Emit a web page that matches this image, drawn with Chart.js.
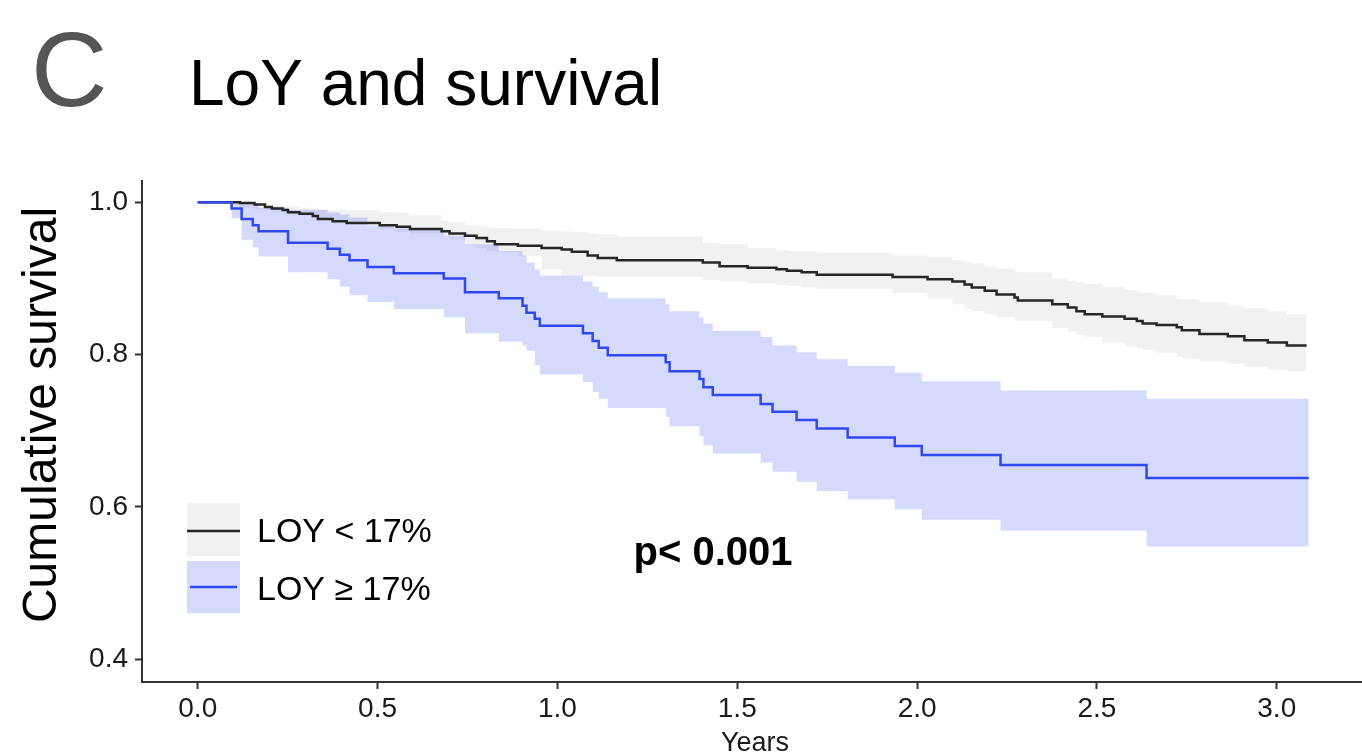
<!DOCTYPE html>
<html>
<head>
<meta charset="utf-8">
<title>LoY and survival</title>
<script src="https://cdn.jsdelivr.net/npm/chart.js@4/dist/chart.umd.min.js"></script>
<style>
  html, body { margin: 0; padding: 0; background: #fff; }
  canvas { display: block; }
</style>
</head>
<body>
<canvas id="chart" width="1362" height="754"></canvas>
<script>
/* ---------- Data ---------- */
const xTicks = [0, 0.5, 1, 1.5, 2, 2.5, 3];
const yTicks = [0.4, 0.6, 0.8, 1.0];

// LOY < 17%
const lowTime = [0, 0.117, 0.158, 0.187, 0.206, 0.236, 0.251, 0.283, 0.320, 0.334,
  0.375, 0.414, 0.506, 0.553, 0.590, 0.678, 0.700, 0.743, 0.775, 0.804,
  0.826, 0.890, 0.956, 1.012, 1.040, 1.084, 1.112, 1.165, 1.404, 1.451,
  1.529, 1.609, 1.638, 1.679, 1.721, 1.932, 2.029, 2.098, 2.132, 2.152,
  2.188, 2.221, 2.271, 2.280, 2.376, 2.419, 2.443, 2.466, 2.515, 2.577,
  2.611, 2.627, 2.666, 2.722, 2.736, 2.785, 2.864, 2.910, 2.975, 3.028, 3.083];
const lowSurv = [1, 0.999, 0.997, 0.994, 0.992, 0.990, 0.987, 0.985, 0.982, 0.978,
  0.975, 0.973, 0.970, 0.968, 0.965, 0.962, 0.959, 0.956, 0.953, 0.949,
  0.945, 0.943, 0.940, 0.938, 0.935, 0.930, 0.927, 0.924, 0.921, 0.916,
  0.914, 0.912, 0.910, 0.908, 0.905, 0.902, 0.899, 0.896, 0.892, 0.888,
  0.884, 0.879, 0.875, 0.871, 0.866, 0.862, 0.857, 0.853, 0.850, 0.847,
  0.844, 0.841, 0.839, 0.836, 0.832, 0.827, 0.824, 0.819, 0.816, 0.812, 0.812];
const lowUpper = [1, 0.999, 0.997, 0.996, 0.996, 0.995, 0.995, 0.993, 0.992, 0.991,
  0.990, 0.990, 0.987, 0.986, 0.983, 0.976, 0.974, 0.970, 0.969, 0.967,
  0.966, 0.965, 0.963, 0.962, 0.961, 0.959, 0.958, 0.955, 0.947, 0.945,
  0.940, 0.937, 0.936, 0.936, 0.934, 0.930, 0.928, 0.924, 0.921, 0.920,
  0.916, 0.913, 0.909, 0.908, 0.900, 0.897, 0.895, 0.893, 0.889, 0.885,
  0.882, 0.881, 0.878, 0.873, 0.873, 0.869, 0.864, 0.861, 0.857, 0.853, 0.853];
const lowLower = [1, 0.993, 0.991, 0.990, 0.988, 0.986, 0.984, 0.983, 0.979, 0.978,
  0.975, 0.972, 0.965, 0.961, 0.959, 0.955, 0.951, 0.944, 0.940, 0.936,
  0.935, 0.929, 0.912, 0.904, 0.904, 0.903, 0.902, 0.902, 0.898, 0.896,
  0.894, 0.891, 0.890, 0.888, 0.886, 0.881, 0.874, 0.866, 0.860, 0.857,
  0.853, 0.849, 0.845, 0.844, 0.835, 0.830, 0.826, 0.823, 0.816, 0.811,
  0.808, 0.806, 0.802, 0.797, 0.795, 0.791, 0.788, 0.784, 0.780, 0.778, 0.778];

// LOY >= 17%
const highTime = [0, 0.094, 0.122, 0.153, 0.169, 0.251, 0.361, 0.395, 0.422, 0.472,
  0.545, 0.684, 0.743, 0.837, 0.903, 0.914, 0.937, 0.951, 1.071, 1.098,
  1.115, 1.140, 1.301, 1.312, 1.395, 1.406, 1.432, 1.565, 1.598, 1.665,
  1.721, 1.807, 1.938, 2.013, 2.232, 2.638, 3.089];
const highSurv = [1, 0.992, 0.978, 0.970, 0.962, 0.947, 0.939, 0.931, 0.924, 0.915,
  0.907, 0.900, 0.882, 0.874, 0.864, 0.855, 0.847, 0.838, 0.828, 0.818,
  0.809, 0.799, 0.790, 0.778, 0.768, 0.757, 0.747, 0.735, 0.725, 0.714,
  0.703, 0.691, 0.680, 0.668, 0.655, 0.638, 0.638];
const highUpper = [1, 1, 0.999, 0.996, 0.993, 0.990, 0.987, 0.984, 0.980, 0.970,
  0.966, 0.956, 0.945, 0.936, 0.930, 0.921, 0.912, 0.904, 0.896, 0.889,
  0.882, 0.874, 0.866, 0.857, 0.849, 0.841, 0.831, 0.823, 0.812, 0.803,
  0.794, 0.785, 0.776, 0.765, 0.753, 0.742, 0.742];
const highLower = [1, 0.979, 0.951, 0.941, 0.929, 0.908, 0.899, 0.889, 0.878, 0.869,
  0.860, 0.849, 0.828, 0.817, 0.812, 0.805, 0.786, 0.774, 0.764, 0.751,
  0.742, 0.730, 0.718, 0.706, 0.693, 0.681, 0.670, 0.658, 0.646, 0.633,
  0.621, 0.610, 0.597, 0.583, 0.569, 0.548, 0.548];

/* ---------- Style ---------- */
const FONT = '"Liberation Sans", Arial, Helvetica, sans-serif';
const INK = "#1a1a1a";
const BLACK_LINE = "#262626";
const BLUE_LINE = "#2f48f2";
const GREY_BAND = "rgba(0,0,0,0.055)";
const BLUE_BAND = "rgba(45,70,240,0.2)";

const pts = (t, v) => t.map((x, i) => ({ x, y: v[i] }));

function band(t, v, bg, fill, order) {
  return {
    data: pts(t, v),
    stepped: "before",
    borderWidth: 0,
    borderColor: "rgba(0,0,0,0)",
    backgroundColor: bg,
    fill,
    pointRadius: 0,
    order
  };
}

/* ---------- Extra text and legend ---------- */
const decor = {
  id: "decor",
  afterDraw(c) {
    const ctx = c.ctx;
    ctx.save();
    ctx.textBaseline = "alphabetic";

    ctx.fillStyle = "#555";
    ctx.font = `106px ${FONT}`;
    ctx.fillText("C", 31, 106);

    ctx.fillStyle = "#000";
    ctx.font = `64px ${FONT}`;
    ctx.fillText("LoY and survival", 189, 105);

    // y axis title
    ctx.save();
    ctx.translate(56, 415);
    ctx.rotate(-Math.PI / 2);
    ctx.textAlign = "center";
    ctx.font = `48px ${FONT}`;
    ctx.fillText("Cumulative survival", 0, 0);
    ctx.restore();

    // x axis title
    ctx.textAlign = "center";
    ctx.font = `27px ${FONT}`;
    ctx.fillStyle = INK;
    ctx.fillText("Years", 755, 751);

    // p value
    ctx.fillStyle = "#000";
    ctx.font = `bold 40px ${FONT}`;
    ctx.fillText("p< 0.001", 713, 565);

    // legend
    ctx.textAlign = "left";
    ctx.fillStyle = GREY_BAND;
    ctx.fillRect(187, 503, 53, 53);
    ctx.fillStyle = BLUE_BAND;
    ctx.fillRect(187, 561, 53, 52);
    ctx.lineWidth = 2.5;
    ctx.strokeStyle = BLACK_LINE;
    ctx.beginPath(); ctx.moveTo(187, 531); ctx.lineTo(240, 531); ctx.stroke();
    ctx.strokeStyle = BLUE_LINE;
    ctx.beginPath(); ctx.moveTo(190, 587); ctx.lineTo(237, 587); ctx.stroke();

    ctx.fillStyle = "#000";
    ctx.font = `34px ${FONT}`;
    ctx.fillText("LOY < 17%", 257, 542);
    ctx.fillText("LOY \u2265 17%", 257, 600);

    ctx.restore();
  }
};

/* ---------- Chart ---------- */
const tickFont = { family: FONT, size: 28 };

new Chart(document.getElementById("chart"), {
  type: "line",
  data: {
    datasets: [
      band(lowTime, lowUpper, GREY_BAND, false, 3),
      band(lowTime, lowLower, GREY_BAND, "-1", 3),
      band(highTime, highUpper, BLUE_BAND, false, 2),
      band(highTime, highLower, BLUE_BAND, "-1", 2),
      {
        label: "LOY < 17%",
        data: pts(lowTime, lowSurv),
        stepped: "before",
        borderColor: BLACK_LINE,
        borderWidth: 2.5,
        pointRadius: 0,
        fill: false,
        order: 1
      },
      {
        label: "LOY \u2265 17%",
        data: pts(highTime, highSurv),
        stepped: "before",
        borderColor: BLUE_LINE,
        borderWidth: 2.5,
        pointRadius: 0,
        fill: false,
        order: 0
      }
    ]
  },
  options: {
    responsive: false,
    animation: false,
    layout: { padding: { top: 181, left: 0, right: 0, bottom: 0 } },
    plugins: {
      legend: { display: false },
      tooltip: { enabled: false }
    },
    scales: {
      x: {
        type: "linear",
        min: -0.155,
        max: 3.237,
        afterFit: s => { s.height = 72; },
        afterBuildTicks: s => { s.ticks = xTicks.map(v => ({ value: v })); },
        border: { color: "#333", width: 2 },
        grid: { drawOnChartArea: false, tickLength: 7, tickColor: "#333", tickWidth: 2 },
        ticks: {
          color: INK,
          font: tickFont,
          padding: 3,
          maxRotation: 0,
          callback: v => v.toFixed(1)
        }
      },
      y: {
        min: 0.37,
        max: 1.028,
        afterFit: s => { s.width = 142; },
        afterBuildTicks: s => { s.ticks = yTicks.map(v => ({ value: v })); },
        border: { color: "#333", width: 2 },
        grid: { drawOnChartArea: false, tickLength: 7, tickColor: "#333", tickWidth: 2 },
        ticks: {
          color: INK,
          font: tickFont,
          padding: 7,
          callback: v => v.toFixed(1)
        }
      }
    }
  },
  plugins: [decor]
});
</script>
</body>
</html>
